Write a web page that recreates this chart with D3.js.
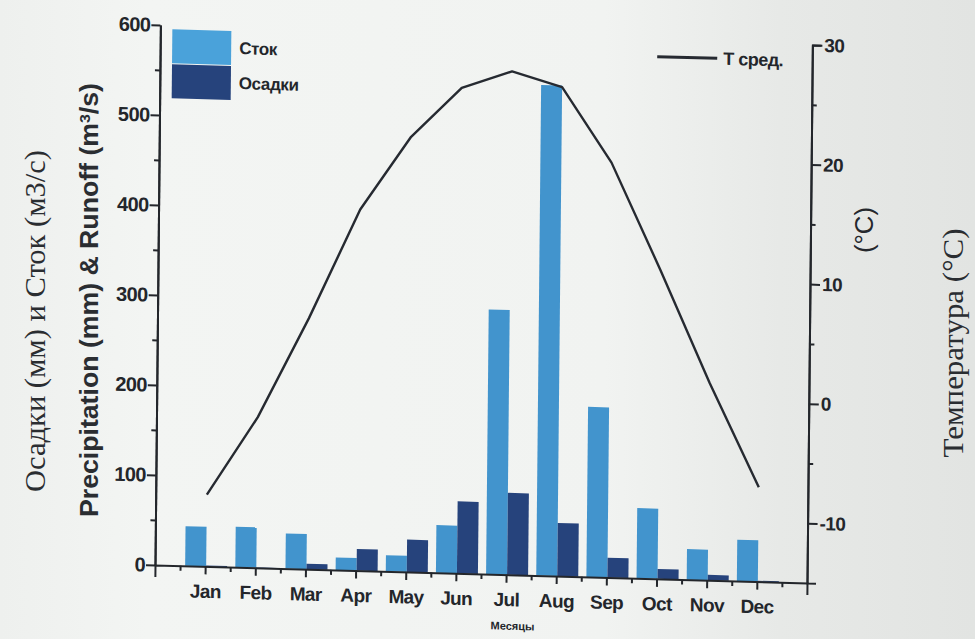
<!DOCTYPE html>
<html>
<head>
<meta charset="utf-8">
<script src="https://cdn.jsdelivr.net/npm/d3@7"></script>
<style>
  html, body { margin: 0; padding: 0; background: #eceeec; }
  svg { display: block; }
</style>
</head>
<body>
<svg id="chart" width="975" height="639"></svg>
<script>
// Monthly climate and river runoff
const months = ["Jan", "Feb", "Mar", "Apr", "May", "Jun", "Jul", "Aug", "Sep", "Oct", "Nov", "Dec"];
const runoff = [44, 45, 39, 14, 18, 53, 294, 545, 189, 78, 34, 46];      // Сток, m3/s
const precip = [1, 0.5, 6, 24, 36, 80, 91, 59, 22, 11, 6, 1];            // Осадки, mm
const tempMean = [-9.0, -2.4, 6.0, 15.2, 21.4, 25.6, 27.1, 25.9, 19.7, 10.8, 1.5, -7.1]; // T сред., °C
const leftTicks = [0, 100, 200, 300, 400, 500, 600];
const leftMinor = [50, 150, 250, 350, 450, 550];
const rightTicks = [-10, 0, 10, 20, 30];
const rightMinor = [-5, 5, 15, 25];
const seriesNames = ["Сток", "Осадки"];
const seriesColors = ["#4294cd", "#26437c"];

const svg = d3.select("#chart");
const W = 975, H = 639;
const ink = "#23262b";

// paper tone
const defs = svg.append("defs");
const grad = defs.append("linearGradient").attr("id", "paper").attr("x1", 0).attr("x2", 1).attr("y1", 0).attr("y2", 0);
grad.append("stop").attr("offset", "0%").attr("stop-color", "#eef0ee");
grad.append("stop").attr("offset", "15%").attr("stop-color", "#f3f5f3");
grad.append("stop").attr("offset", "62%").attr("stop-color", "#f1f3f1");
grad.append("stop").attr("offset", "80%").attr("stop-color", "#e7e9e7");
grad.append("stop").attr("offset", "100%").attr("stop-color", "#e2e4e2");
svg.append("rect").attr("width", W).attr("height", H).attr("fill", "url(#paper)");

// plot frame: left axis at x0, baseline at y0
const x0 = 155, y0 = 565;
const shearY = 0.0276, shearX = -0.01;
const g = svg.append("g")
  .attr("transform", `matrix(1, ${shearY}, ${shearX}, 1, ${-shearX * y0}, ${-shearY * x0})`);

const x = d3.scaleLinear().domain([0, 13]).range([x0, 807]);
const yLeft = d3.scaleLinear().domain([0, 600]).range([y0, 25]);
const yRight = d3.scaleLinear().domain([-15, 30]).range([y0, 27]);
const inner = d3.scaleBand().domain(seriesNames).range([-20, 22]);

// bars
const rows = months.map((m, i) => ({ i: i + 1, values: [runoff[i], precip[i]] }));
const groups = g.append("g").selectAll("g").data(rows).join("g");
groups.selectAll("rect")
  .data(d => d.values.map((v, k) => ({ i: d.i, v, k })))
  .join("rect")
  .attr("x", d => x(d.i) + inner(seriesNames[d.k]))
  .attr("width", inner.bandwidth())
  .attr("y", d => yLeft(d.v))
  .attr("height", d => y0 - yLeft(d.v))
  .attr("fill", d => seriesColors[d.k]);

// temperature line
const line = d3.line().x((d, i) => x(i + 1) + 1).y(d => yRight(d));
g.append("path").datum(tempMean)
  .attr("d", line)
  .attr("fill", "none")
  .attr("stroke", "#262a31")
  .attr("stroke-width", 2.4)
  .attr("stroke-linejoin", "round");

function styleAxis(sel, size) {
  sel.selectAll("path, line").attr("stroke", ink).attr("stroke-width", 2);
  sel.selectAll("text")
    .attr("fill", ink)
    .style("font-family", "'Liberation Sans', Arial, sans-serif")
    .style("font-weight", "bold")
    .style("font-size", size + "px")
    .style("letter-spacing", "-0.6px");
}

// left axis
const gl = g.append("g").attr("transform", `translate(${x0},0)`);
gl.call(d3.axisLeft(yLeft).tickValues(leftTicks).tickSize(9).tickPadding(1).tickSizeOuter(0));
styleAxis(gl, 20);
const glm = g.append("g").attr("transform", `translate(${x0},0)`);
glm.call(d3.axisLeft(yLeft).tickValues(leftMinor).tickSize(5).tickFormat("").tickSizeOuter(0));
styleAxis(glm, 20);

// right axis
const gr = g.append("g").attr("transform", `translate(807,0)`);
gr.call(d3.axisRight(yRight).tickValues(rightTicks).tickSize(10).tickPadding(2).tickSizeOuter(9)
  .tickFormat(d => String(d)));
styleAxis(gr, 19);
const grm = g.append("g").attr("transform", `translate(807,0)`);
grm.call(d3.axisRight(yRight).tickValues(rightMinor).tickSize(5).tickFormat("").tickSizeOuter(0));
styleAxis(grm, 19);

// month axis
const gx = g.append("g").attr("transform", `translate(0,${y0})`);
gx.call(d3.axisBottom(x).tickValues(d3.range(1, 13)).tickFormat(i => months[i - 1])
  .tickSize(8).tickPadding(10).tickSizeOuter(12));
styleAxis(gx, 19);
const gxm = g.append("g").attr("transform", `translate(0,${y0})`);
gxm.call(d3.axisBottom(x).tickValues(d3.range(0.5, 13, 1)).tickFormat("").tickSize(5).tickSizeOuter(0));
styleAxis(gxm, 19);
gxm.select(".domain").remove();

g.append("text")
  .attr("x", 513).attr("y", 620)
  .attr("text-anchor", "middle")
  .attr("fill", ink)
  .style("font-family", "'Liberation Sans', Arial, sans-serif")
  .style("font-weight", "bold")
  .style("font-size", "11px")
  .text("Месяцы");

// bar legend
const legend = g.append("g");
seriesNames.forEach((name, k) => {
  legend.append("rect")
    .attr("x", 167).attr("y", 29 + k * 35)
    .attr("width", 59).attr("height", 34)
    .attr("fill", k === 0 ? "#4aa2da" : seriesColors[1]);
  legend.append("text")
    .attr("x", 234).attr("y", 46 + k * 35)
    .attr("dy", "0.35em")
    .attr("fill", ink)
    .style("font-family", "'Liberation Sans', Arial, sans-serif")
    .style("font-weight", "bold")
    .style("font-size", "17px")
    .style("letter-spacing", "-0.4px")
    .text(name);
});

// temperature legend
g.append("line")
  .attr("x1", 652).attr("x2", 712).attr("y1", 43).attr("y2", 43)
  .attr("stroke", "#262a31").attr("stroke-width", 3);
g.append("text")
  .attr("x", 718).attr("y", 43).attr("dy", "0.35em")
  .attr("fill", ink)
  .style("font-family", "'Liberation Sans', Arial, sans-serif")
  .style("font-weight", "bold")
  .style("font-size", "18px")
  .style("letter-spacing", "-0.5px")
  .text("T сред.");

// axis titles
function vTitle(cx, cy, family, size, weight, len, color) {
  const t = svg.append("text")
    .attr("transform", `translate(${cx},${cy}) rotate(-90)`)
    .attr("text-anchor", "middle")
    .attr("dy", "0.35em")
    .attr("fill", color)
    .style("font-family", family)
    .style("font-size", size + "px")
    .style("font-weight", weight);
  if (len) t.attr("textLength", len).attr("lengthAdjust", "spacingAndGlyphs");
  return t;
}
const serif = "'Liberation Serif', 'Times New Roman', serif";
const sans = "'Liberation Sans', Arial, sans-serif";

vTitle(35, 321, serif, 29, "normal", 342, "#2a2d31").text("Осадки (мм) и Сток (м3/с)");

const pr = vTitle(89, 300, sans, 25, "bold", 434, "#2a2d31");
pr.append("tspan").text("Precipitation (mm) & Runoff (m");
pr.append("tspan").attr("baseline-shift", "super").style("font-size", "15px").text("3");
pr.append("tspan").text("/s)");

vTitle(864, 230, sans, 25, "normal", 46, "#25282d").text("(°C)");
vTitle(953, 343, serif, 29, "normal", 229, "#2a2d31").text("Температура (°C)");
</script>
</body>
</html>
